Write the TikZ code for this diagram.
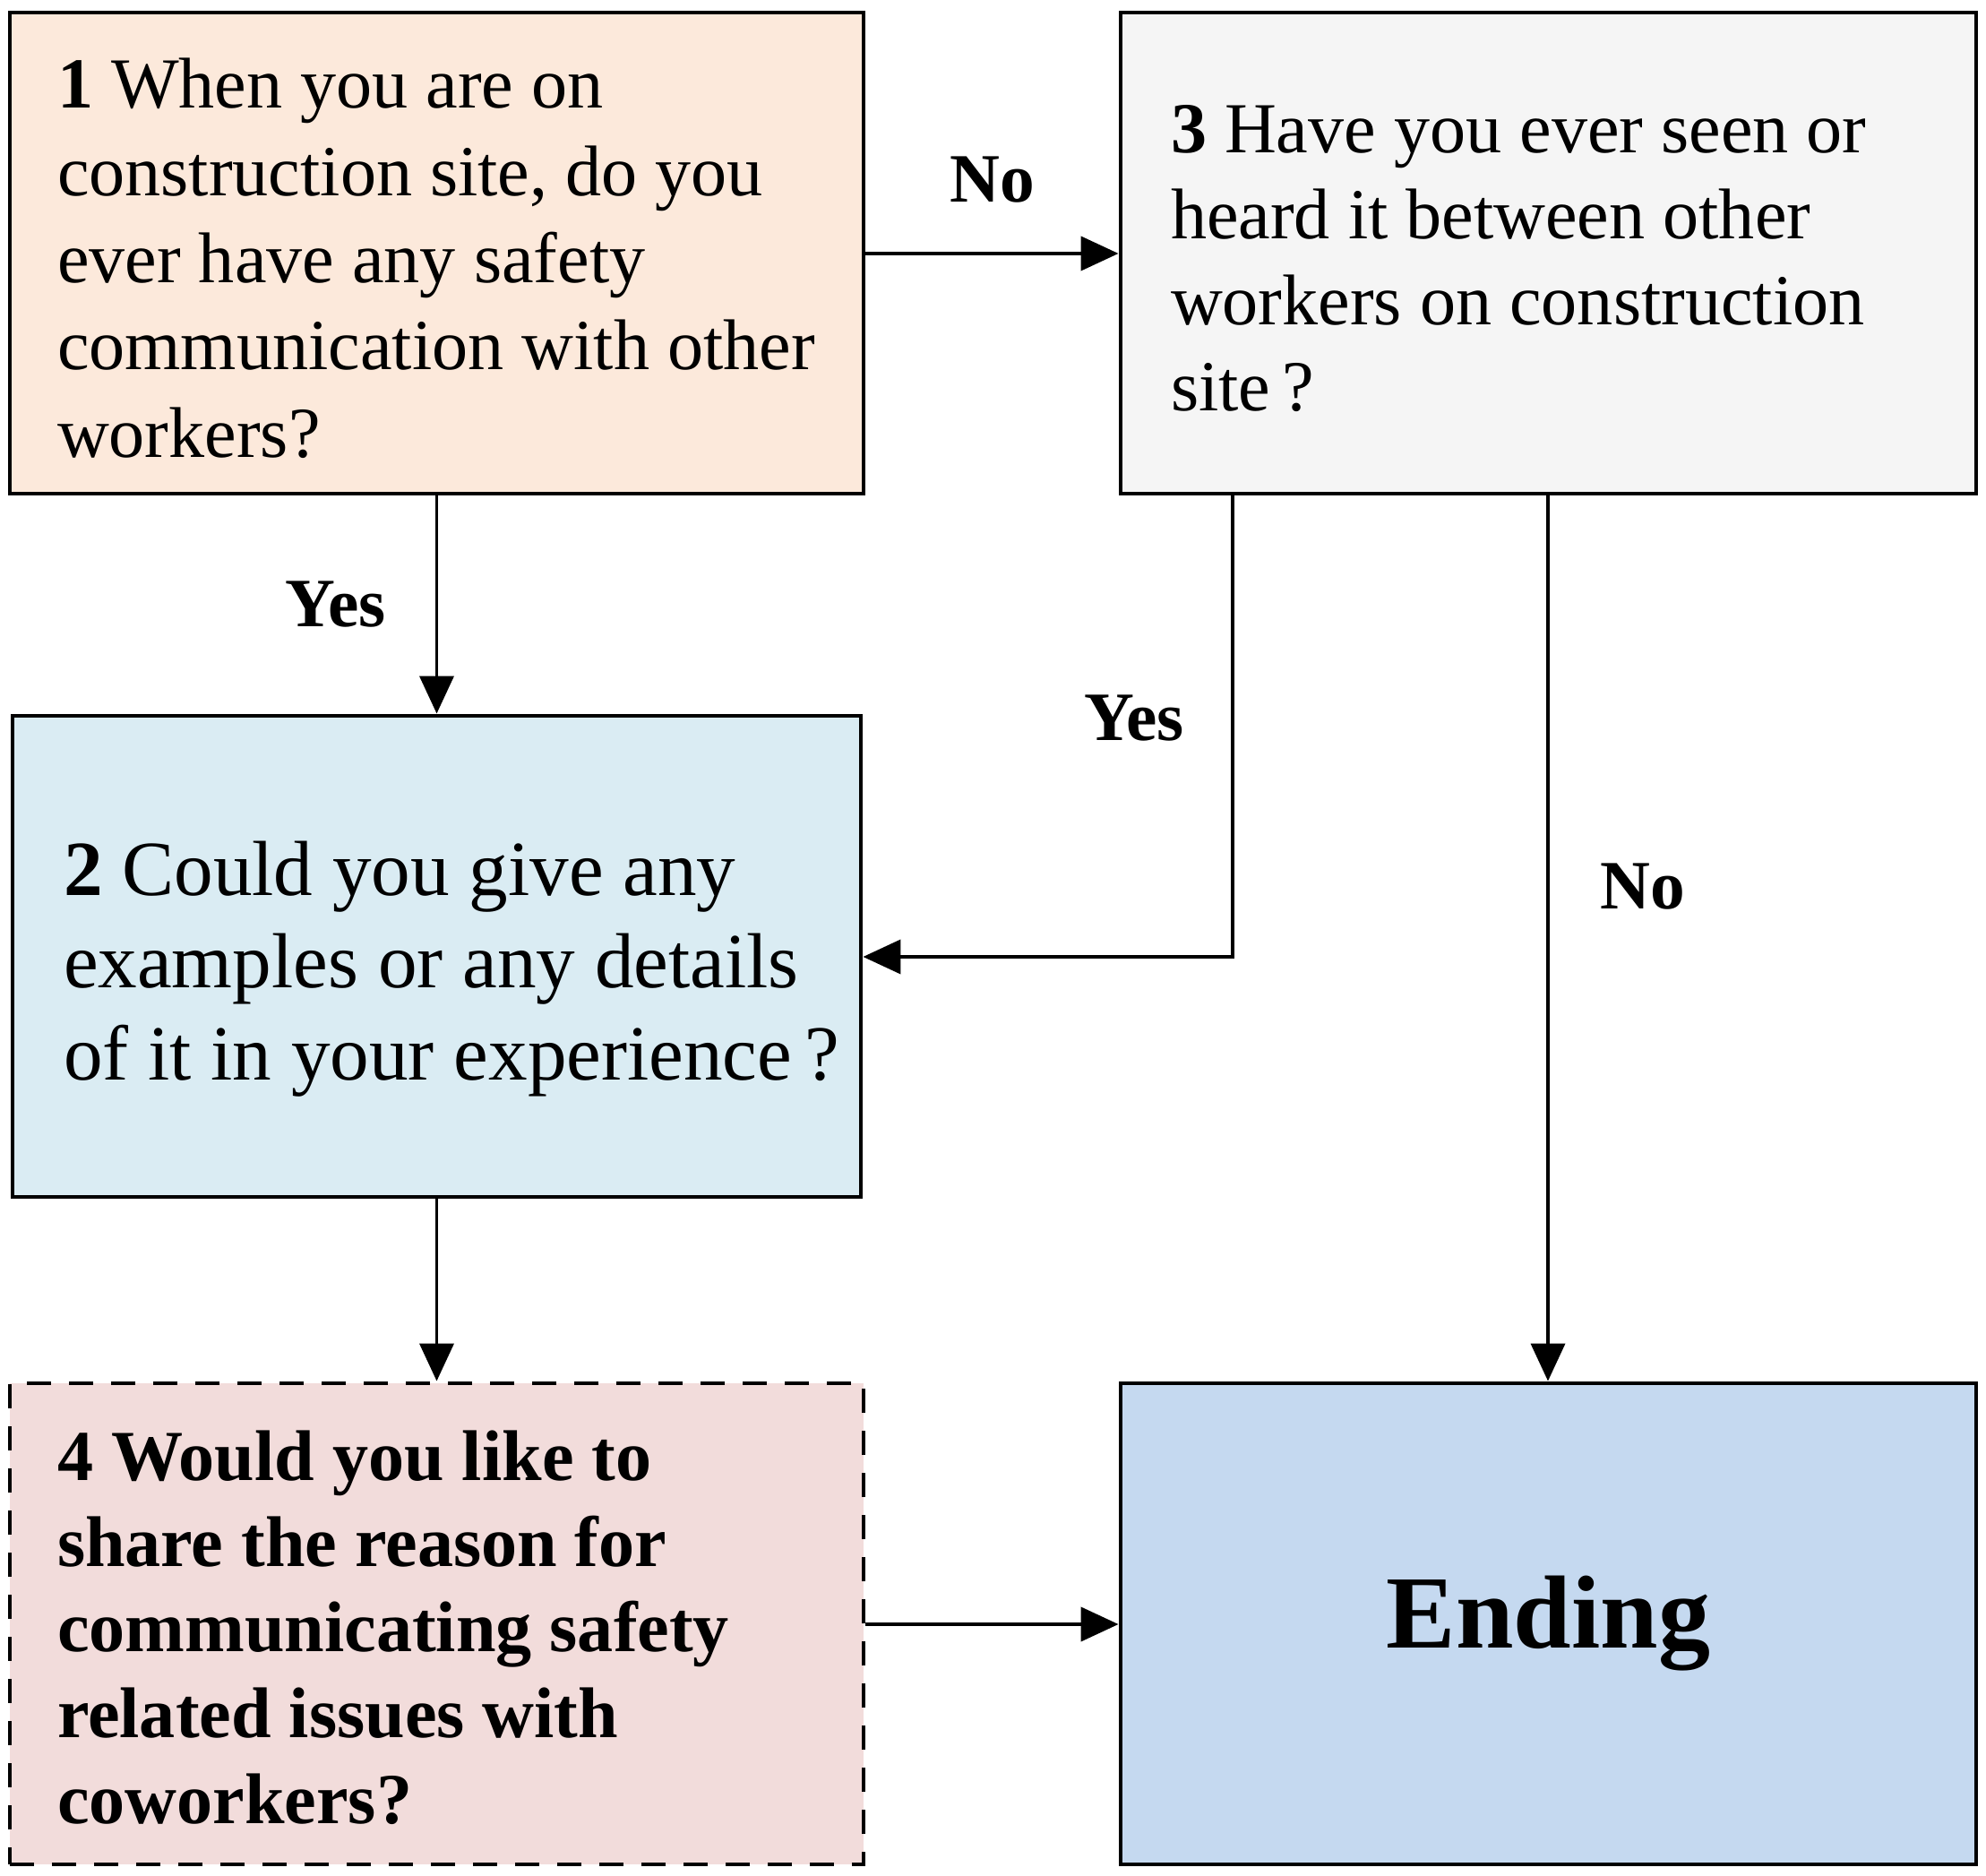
\documentclass[tikz,border=0pt]{standalone}
\usepackage{fontspec}
\setmainfont{Liberation Serif}
\usetikzlibrary{positioning, arrows.meta}
\definecolor{peach}{RGB}{252,233,219}
\definecolor{paleblue}{RGB}{218,236,243}
\definecolor{palegrey}{RGB}{245,245,245}
\definecolor{palepink}{RGB}{242,220,219}
\definecolor{endblue}{RGB}{197,217,240}
\newcommand{\headroom}[1]{\rule{0pt}{#1}}
\tikzset{
    framebox/.style={draw, line width=1.4pt, rectangle, minimum height=5.37cm, inner ysep=0pt},
    qbox/.style={framebox, align=flush left},
    link/.style={-{Triangle[length=0.42cm, width=0.38cm]}, line width=1.1pt},
    answer/.style={font=\fontsize{22}{26}\selectfont\bfseries, inner sep=0pt}
}

\begin{document}
\begin{tikzpicture}
    \useasboundingbox (0,0) rectangle (22.17,-20.94);
    \node[qbox, fill=peach, minimum width=9.53cm, inner xsep=0.53cm, text width=8.47cm,
        font=\fontsize{22.8}{27.7}\selectfont] (q1) at (4.875,-2.825)
        {\headroom{0.67cm}\textbf{1} When you are on\\construction site, do you\\ever have any safety\\\mbox{communication with other}\\workers?};
    \node[qbox, fill=palegrey, minimum width=9.55cm, inner xsep=0.56cm, text width=8.43cm,
        font=\fontsize{22.8}{27.3}\selectfont] (q3) at (17.285,-2.825)
        {\headroom{0.66cm}\textbf{3} Have you ever seen or\\heard it between other\\workers on construction\\site\,?};
    \node[qbox, fill=paleblue, minimum width=9.47cm, inner xsep=0.57cm, text width=8.33cm,
        font=\fontsize{24.8}{29.3}\selectfont] (q2) at (4.875,-10.675)
        {\headroom{0.89cm}\textbf{2} Could you give any\\\mbox{examples or any details}\\\mbox{of it in your experience\,?}};
    \node[qbox, fill=palepink, dash pattern=on 0.27cm off 0.2cm,
        minimum width=9.53cm, inner xsep=0.53cm, text width=8.47cm,
        font=\fontsize{22.8}{27.2}\selectfont\bfseries] (q4) at (4.875,-18.125)
        {\headroom{0.64cm}4 Would you like to\\share the reason for\\\mbox{communicating safety}\\related issues with\\coworkers?};
    \node[framebox, fill=endblue, minimum width=9.55cm,
        font=\fontsize{33}{40}\selectfont\bfseries] (end) at (17.285,-18.125) {Ending};

    % connectors
    \draw[link] (q1.east |- 0,-2.83) -- (q3.west |- 0,-2.83)
        node[answer, midway, above=0.55cm] (no1) {No};
    \draw[link] (q1) -- (q2) node[answer, midway, left=0.55cm] (yes1) {Yes};
    \coordinate (bend) at (13.76,-10.68);
    \draw[link] (q3.south -| bend) -- (bend) -- (q2.east |- bend);
    \node[answer] (yes2) at (12.66,-8.02) {Yes};
    \draw[link] (q3.south -| 17.28,0) -- (end.north -| 17.28,0);
    \node[answer] (no2) at (18.34,-9.9) {No};
    \draw[link] (q2) -- (q4);
    \draw[link] (q4.east |- 0,-18.13) -- (end.west |- 0,-18.13);
\end{tikzpicture}
\end{document}
